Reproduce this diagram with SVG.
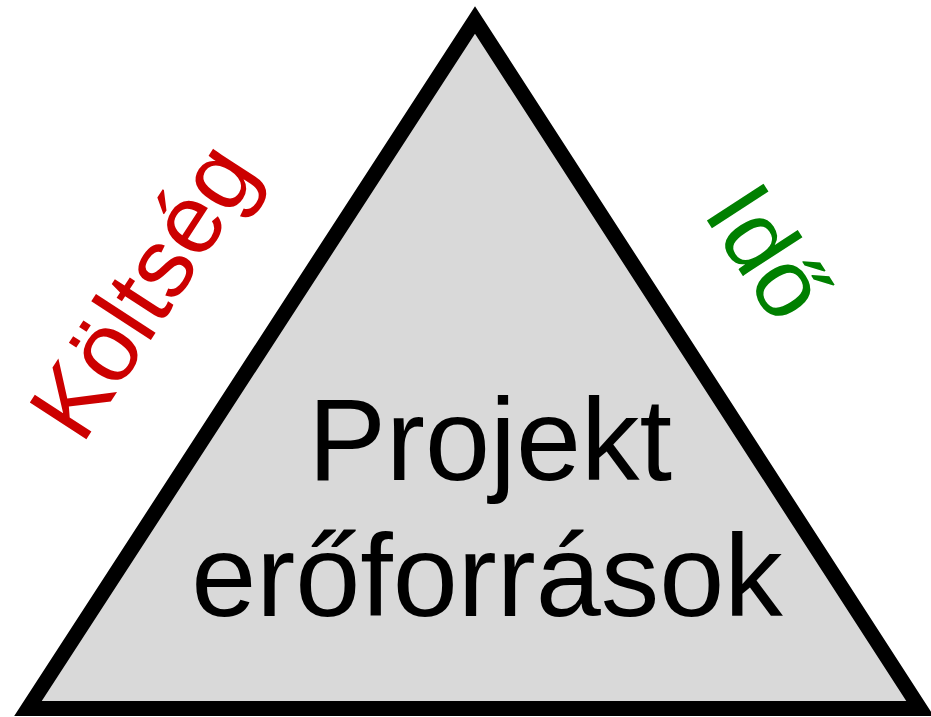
<svg xmlns="http://www.w3.org/2000/svg" width="931" height="717" viewBox="0 0 931 717">
<style>
.tri{fill:#d9d9d9;stroke:#000;stroke-width:15;stroke-linejoin:miter;stroke-miterlimit:10}
.main{font-family:"Liberation Sans",Arial,sans-serif;font-size:117px;fill:#000;text-anchor:middle}
.side{font-family:"Liberation Sans",Arial,sans-serif;font-size:98px}
</style>
<rect width="931" height="717" fill="#fff"/>
<g id="triangle">
<polygon class="tri" points="475,20 28,708.5 920,708.5"/>
<text class="main" x="490" y="480">Projekt</text>
<text class="main" x="487" y="616">erőforrások</text>
</g>
<g id="cost">
<text class="side" fill="#cc0000" transform="translate(82,446) rotate(-57)">Költség</text>
</g>
<g id="time">
<text class="side" fill="#008000" transform="translate(702,213) rotate(57)">Idő</text>
</g>
</svg>
